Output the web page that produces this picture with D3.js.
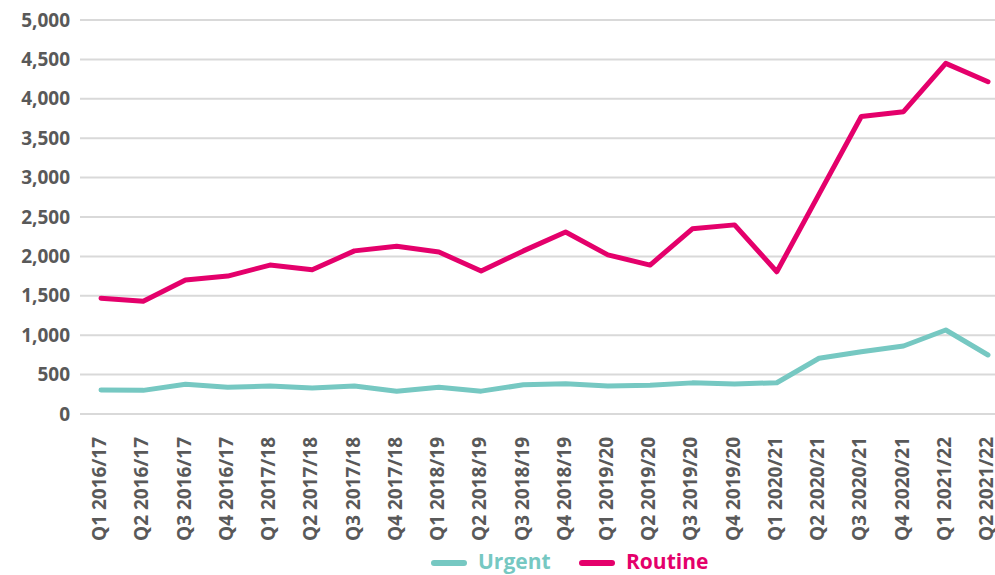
<html>
<head>
<script src="https://cdn.jsdelivr.net/npm/d3@7/dist/d3.min.js"></script>
<style>
  body { margin: 0; background: #fff; }
  text { font-family: "Open Sans", "Noto Sans", sans-serif; font-weight: 700; }
</style>
</head>
<body>
<svg id="chart"></svg>
<script>
var quarters = ["Q1 2016/17", "Q2 2016/17", "Q3 2016/17", "Q4 2016/17",
  "Q1 2017/18", "Q2 2017/18", "Q3 2017/18", "Q4 2017/18",
  "Q1 2018/19", "Q2 2018/19", "Q3 2018/19", "Q4 2018/19",
  "Q1 2019/20", "Q2 2019/20", "Q3 2019/20", "Q4 2019/20",
  "Q1 2020/21", "Q2 2020/21", "Q3 2020/21", "Q4 2020/21",
  "Q1 2021/22", "Q2 2021/22"];
var urgent = [305, 300, 377, 340, 355, 330, 355, 290, 340, 290, 370, 385,
  355, 365, 395, 380, 397, 707, 790, 863, 1066, 749];
var routine = [1470, 1430, 1700, 1750, 1890, 1830, 2070, 2130, 2055, 1815, 2070, 2310,
  2020, 1890, 2350, 2400, 1805, 2790, 3775, 3836, 4450, 4217];
var yTicks = [0, 500, 1000, 1500, 2000, 2500, 3000, 3500, 4000, 4500, 5000];

var width = 995, height = 575;
var svg = d3.select("svg#chart")
    .attr("width", width)
    .attr("height", height);

var x = d3.scalePoint()
    .domain(quarters)
    .range([101, 988]);

var y = d3.scaleLinear()
    .domain([0, 5000])
    .range([414, 20]);

// gridlines
svg.append("g")
    .attr("class", "grid")
    .selectAll("line")
    .data(yTicks)
    .enter()
    .append("line")
    .attr("x1", 80)
    .attr("x2", width)
    .attr("y1", function(d) { return y(d); })
    .attr("y2", function(d) { return y(d); })
    .attr("stroke", "#d9d9d9")
    .attr("stroke-width", 2);

// y axis labels
var yAxis = svg.append("g")
    .attr("transform", "translate(70,0)")
    .call(d3.axisLeft(y).tickValues(yTicks).tickSize(0).tickPadding(0).tickFormat(d3.format(",")));
yAxis.select(".domain").remove();
yAxis.selectAll("text")
    .attr("fill", "#595959")
    .style("font-size", "19px");

// x axis labels
var xAxis = svg.append("g")
    .attr("transform", "translate(-2,430)")
    .call(d3.axisBottom(x).tickSize(0).tickPadding(0));
xAxis.select(".domain").remove();
xAxis.selectAll("text")
    .attr("fill", "#595959")
    .style("font-size", "19px")
    .attr("text-anchor", "end")
    .attr("transform", "rotate(-90)")
    .attr("x", -7)
    .attr("y", 0)
    .attr("dy", "0.35em");

var line = d3.line()
    .x(function(d, i) { return x(quarters[i]); })
    .y(function(d) { return y(d); });

svg.append("path")
    .datum(urgent)
    .attr("d", line)
    .attr("fill", "none")
    .attr("stroke", "#76c8c2")
    .attr("stroke-width", 5)
    .attr("stroke-linejoin", "round")
    .attr("stroke-linecap", "round");

svg.append("path")
    .datum(routine)
    .attr("d", line)
    .attr("fill", "none")
    .attr("stroke", "#e4006b")
    .attr("stroke-width", 5)
    .attr("stroke-linejoin", "round")
    .attr("stroke-linecap", "round");

// legend
var legend = [
  {name: "Urgent", color: "#76c8c2", x: 434},
  {name: "Routine", color: "#e4006b", x: 582}
];
var lg = svg.append("g").attr("class", "legend");
legend.forEach(function(d) {
  lg.append("line")
    .attr("x1", d.x).attr("x2", d.x + 30)
    .attr("y1", 563).attr("y2", 563)
    .attr("stroke", d.color)
    .attr("stroke-width", 6)
    .attr("stroke-linecap", "round");
  lg.append("text")
    .attr("x", d.x + 44)
    .attr("y", 562)
    .attr("dy", "0.35em")
    .attr("fill", d.color)
    .style("font-size", "21px")
    .text(d.name);
});
</script>
</body>
</html>
